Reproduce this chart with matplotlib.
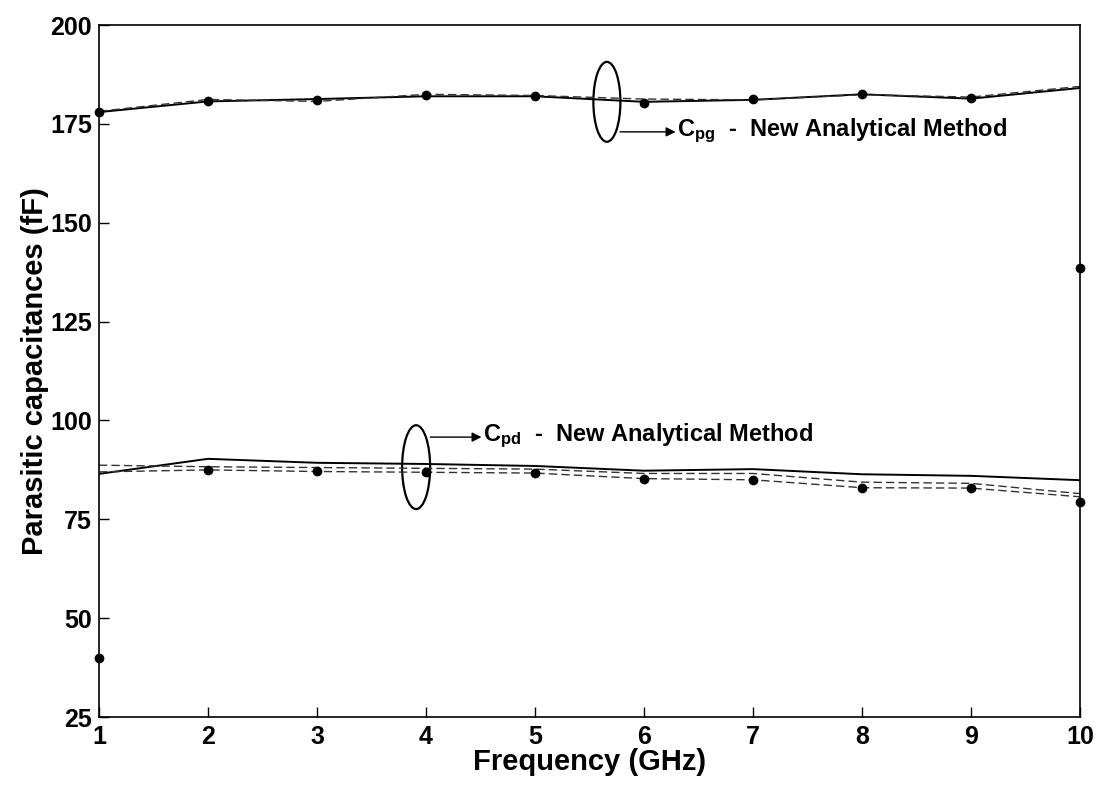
import matplotlib
matplotlib.use("Agg")
import matplotlib.pyplot as plt
from matplotlib.patches import Ellipse

plt.rcParams['font.family'] = ['Liberation Sans', 'DejaVu Sans']
plt.rcParams['mathtext.fontset'] = 'custom'
plt.rcParams['mathtext.rm'] = 'Liberation Sans:bold'
plt.rcParams['mathtext.it'] = 'Liberation Sans:bold'
plt.rcParams['mathtext.bf'] = 'Liberation Sans:bold'

freq = [1, 2, 3, 4, 5, 6, 7, 8, 9, 10]

# C_pg curves
cpg_solid = [178.0, 180.7, 181.3, 182.0, 182.0, 180.6, 181.1, 182.5, 181.4, 184.1]
cpg_dashed = [178.2, 181.2, 180.7, 182.5, 182.2, 181.3, 181.1, 182.4, 181.8, 184.5]
cpg_dots = [178.0, 180.9, 181.1, 182.4, 182.0, 180.3, 181.4, 182.5, 181.6, 138.5]

# C_pd curves
cpd_solid = [86.5, 90.3, 89.3, 89.0, 88.5, 87.3, 87.7, 86.4, 86.0, 84.9]
cpd_dashed1 = [88.7, 88.3, 88.1, 87.9, 87.7, 86.6, 86.6, 84.4, 84.1, 81.5]
cpd_dashed2 = [87.0, 87.5, 87.1, 86.9, 86.7, 85.3, 85.0, 83.0, 82.9, 80.7]
cpd_dots = [40.0, 87.5, 87.1, 86.9, 86.7, 85.3, 85.0, 83.0, 82.9, 79.5]

xticks = [1, 2, 3, 4, 5, 6, 7, 8, 9, 10]
yticks = [25, 50, 75, 100, 125, 150, 175, 200]

fig = plt.figure(figsize=(10.99, 7.85), dpi=100)
ax = fig.add_axes([0.090, 0.0866, 0.8927, 0.8814])

dash = (0, (6, 3))
ax.plot(freq, cpg_solid, color='black', lw=1.4)
ax.plot(freq, cpg_dashed, color='#333333', lw=1.0, linestyle=dash)
ax.plot(freq, cpd_solid, color='black', lw=1.4)
ax.plot(freq, cpd_dashed1, color='#333333', lw=1.0, linestyle=dash)
ax.plot(freq, cpd_dashed2, color='#333333', lw=1.0, linestyle=dash)
ax.plot(freq, cpg_dots, linestyle='none', marker='o', color='black', ms=6, clip_on=False, zorder=5)
ax.plot(freq, cpd_dots, linestyle='none', marker='o', color='black', ms=6, clip_on=False, zorder=5)

ax.set_xlim(1, 10)
ax.set_ylim(25, 200)
ax.set_xticks(xticks)
ax.set_yticks(yticks)
ax.tick_params(direction='in', length=7, width=1, labelsize=18, pad=5)
ax.tick_params(axis='x', pad=6)
for lab in ax.get_xticklabels() + ax.get_yticklabels():
    lab.set_fontweight('bold')
for s in ax.spines.values():
    s.set_linewidth(1.2)

ax.set_xlabel('Frequency (GHz)', fontsize=21, fontweight='bold', labelpad=-1)
ax.set_ylabel('Parasitic capacitances (fF)', fontsize=21, fontweight='bold', labelpad=1)

# annotations
ax.add_patch(Ellipse((5.66, 180.6), 0.248, 20.2, fill=False, lw=1.6, color='black'))
ax.annotate('', xy=(6.29, 173.0), xytext=(5.78, 173.0),
            arrowprops=dict(arrowstyle='-|>', color='black', lw=1.0, mutation_scale=14,
                            shrinkA=0, shrinkB=0))
ax.text(6.30, 173.3, r'C$_{\mathrm{pg}}$  -  New Analytical Method', fontsize=17,
        fontweight='bold', va='center', ha='left')

ax.add_patch(Ellipse((3.91, 88.2), 0.257, 21.2, fill=False, lw=1.6, color='black'))
ax.annotate('', xy=(4.51, 95.8), xytext=(4.04, 95.8),
            arrowprops=dict(arrowstyle='-|>', color='black', lw=1.0, mutation_scale=14,
                            shrinkA=0, shrinkB=0))
ax.text(4.52, 96.1, r'C$_{\mathrm{pd}}$  -  New Analytical Method', fontsize=17,
        fontweight='bold', va='center', ha='left')

fig.savefig('out.png', dpi=100)
